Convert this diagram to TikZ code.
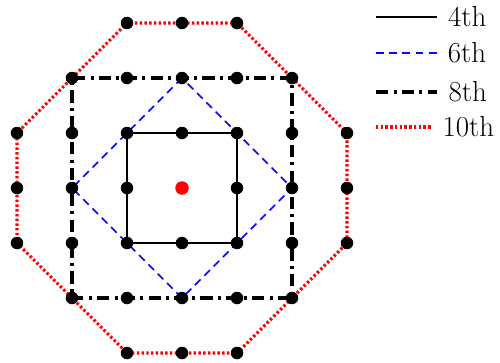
\documentclass[tikz,border=0pt]{standalone}
\begin{document}
\begin{tikzpicture}[
        x=1.1cm, y=1.1cm,
        ord4/.style={black, line width=1.3pt},
        ord6/.style={blue, dash pattern=on 4.5pt off 3pt, line width=0.9pt},
        ord8/.style={black, line width=1.8pt, dash pattern=on 7pt off 3pt on 1.7pt off 3pt},
        ord10/.style={red, line width=1.8pt, dash pattern=on 1.4pt off 1.3pt},
        punto/.style={circle, fill=black, inner sep=0pt, minimum size=2.5mm},
        centro/.style={circle, fill=red, inner sep=0pt, minimum size=2.7mm},
        leglbl/.style={text=black, font=\fontsize{16.5}{16.5}\selectfont, anchor=west, inner sep=0pt, xshift=0.2cm}]

    \useasboundingbox (-3.64cm,-3.48cm) rectangle (6.36cm,3.76cm);

    % --- Vértices de los contornos
    \foreach \n/\x/\y in {ne/1/1,nw/-1/1,sw/-1/-1,se/1/-1} {
        \coordinate (q4\n) at (\x,\y);
        \coordinate (q8\n) at (2*\x,2*\y);
    }
    \foreach \n/\x/\y in {n/0/2,w/-2/0,s/0/-2,e/2/0}
        \coordinate (r6\n) at (\x,\y);
    \foreach \i/\x/\y in {1/1/3,2/-1/3,3/-3/1,4/-3/-1,5/-1/-3,6/1/-3,7/3/-1,8/3/1}
        \coordinate (o10\i) at (\x,\y);

    % --- Contornos
    \draw[ord4] (q4ne) -- (q4nw) -- (q4sw) -- (q4se) -- cycle;
    \draw[ord6] (r6n) -- (r6w) -- (r6s) -- (r6e) -- cycle;
    \draw[ord8] (q8ne) -- (q8nw) -- (q8sw) -- (q8se) -- cycle;
    \draw[ord10] (o101) -- (o102) -- (o103) -- (o104) -- (o105) -- (o106) -- (o107) -- (o108) -- cycle;

    % --- Puntos de la malla
    \foreach \x/\y in {1/1,-1/1,-1/-1,1/-1,0/1,0/-1,1/0,-1/0}
        \node[punto] (p\x\y) at (\x,\y) {};
    \foreach \x/\y in {2/2,-2/2,-2/-2,2/-2}
        \node[punto] (p\x\y) at (\x,\y) {};
    \foreach \t in {-1,0,1} {
        \node[punto] (p\t2) at (\t,2) {};
        \node[punto] (p\t-2) at (\t,-2) {};
        \node[punto] (p2\t) at (2,\t) {};
        \node[punto] (p-2\t) at (-2,\t) {};
    }
    \foreach \t in {-1,0,1} {
        \node[punto] (p\t3) at (\t,3) {};
        \node[punto] (p\t-3) at (\t,-3) {};
        \node[punto] (p3\t) at (3,\t) {};
        \node[punto] (p-3\t) at (-3,\t) {};
    }
    \node[centro] (o) at (0,0) {};

    % --- Leyenda
    \foreach \o/\y/\xf in {4/3.42cm/5.10cm,6/2.70cm/5.10cm,8/1.92cm/5.10cm,10/1.22cm/4.98cm} {
        \coordinate (ini\o) at (3.88cm,\y);
        \coordinate (fin\o) at (\xf,\y);
        \draw[ord\o] (ini\o) -- (fin\o) node[leglbl] {\o{}th};
    }

\end{tikzpicture}
\end{document}
